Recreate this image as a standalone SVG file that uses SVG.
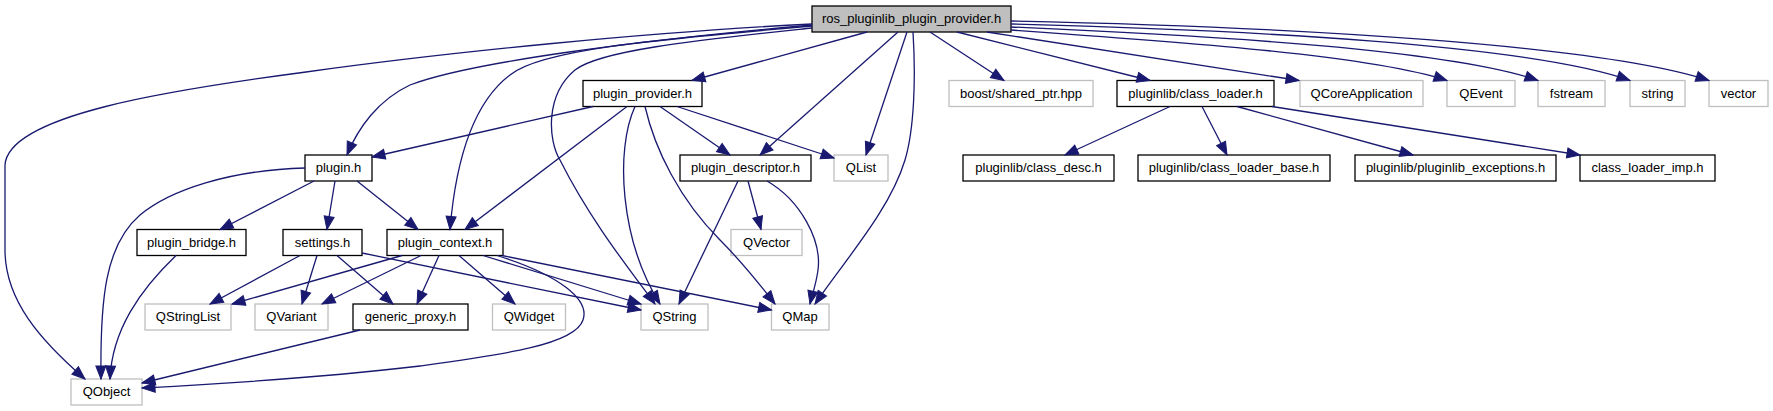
<svg xmlns="http://www.w3.org/2000/svg" width="1773" height="411" viewBox="0 0 1773 411">
<style>
.n rect{fill:#ffffff;stroke:#000000;stroke-width:1.3}
.g rect{fill:#ffffff;stroke:#bfbfbf;stroke-width:1.3}
.m rect{fill:#bfbfbf;stroke:#000000;stroke-width:1.3}
text{font-family:"Liberation Sans",Arial,sans-serif;font-size:13px;fill:#000000;text-anchor:middle}
#edges path{fill:none;stroke:#191970;stroke-width:1.3;marker-end:url(#arr)}
</style>
<defs>
<marker id="arr" markerUnits="userSpaceOnUse" markerWidth="15" markerHeight="12" refX="13" refY="5.5" orient="auto" overflow="visible">
<path d="M0,0.5 L13,5.5 L0,10.5 z" fill="#191970" stroke="#191970" stroke-width="1"/>
</marker>
</defs>
<rect x="0" y="0" width="1773" height="411" fill="#ffffff"/>
<g id="n_main" class="m"><rect x="812" y="6" width="199" height="26"/><text x="911.5" y="23">ros_pluginlib_plugin_provider.h</text></g>
<g id="n_plugin_provider" class="n"><rect x="583" y="80.5" width="119" height="26"/><text x="642.5" y="97.5">plugin_provider.h</text></g>
<g id="n_boost" class="g"><rect x="949" y="80.5" width="144" height="26"/><text x="1021" y="97.5">boost/shared_ptr.hpp</text></g>
<g id="n_class_loader" class="n"><rect x="1117" y="80.5" width="157" height="26"/><text x="1195.5" y="97.5">pluginlib/class_loader.h</text></g>
<g id="n_qcoreapplication" class="g"><rect x="1300" y="80.5" width="123" height="26"/><text x="1361.5" y="97.5">QCoreApplication</text></g>
<g id="n_qevent" class="g"><rect x="1447" y="80.5" width="68" height="26"/><text x="1481" y="97.5">QEvent</text></g>
<g id="n_fstream" class="g"><rect x="1538" y="80.5" width="67" height="26"/><text x="1571.5" y="97.5">fstream</text></g>
<g id="n_string" class="g"><rect x="1630" y="80.5" width="55" height="26"/><text x="1657.5" y="97.5">string</text></g>
<g id="n_vector" class="g"><rect x="1709" y="80.5" width="59" height="26"/><text x="1738.5" y="97.5">vector</text></g>
<g id="n_plugin" class="n"><rect x="305" y="155" width="67" height="26"/><text x="338.5" y="172">plugin.h</text></g>
<g id="n_plugin_descriptor" class="n"><rect x="680" y="155" width="131" height="26"/><text x="745.5" y="172">plugin_descriptor.h</text></g>
<g id="n_qlist" class="g"><rect x="834" y="155" width="54" height="26"/><text x="861" y="172">QList</text></g>
<g id="n_class_desc" class="n"><rect x="963" y="155" width="151" height="26"/><text x="1038.5" y="172">pluginlib/class_desc.h</text></g>
<g id="n_class_loader_base" class="n"><rect x="1138" y="155" width="192" height="26"/><text x="1234" y="172">pluginlib/class_loader_base.h</text></g>
<g id="n_pluginlib_exceptions" class="n"><rect x="1355" y="155" width="201" height="26"/><text x="1455.5" y="172">pluginlib/pluginlib_exceptions.h</text></g>
<g id="n_class_loader_imp" class="n"><rect x="1580" y="155" width="135" height="26"/><text x="1647.5" y="172">class_loader_imp.h</text></g>
<g id="n_plugin_bridge" class="n"><rect x="137" y="229.5" width="109" height="26"/><text x="191.5" y="246.5">plugin_bridge.h</text></g>
<g id="n_settings" class="n"><rect x="283" y="229.5" width="79" height="26"/><text x="322.5" y="246.5">settings.h</text></g>
<g id="n_plugin_context" class="n"><rect x="387" y="229.5" width="116" height="26"/><text x="445" y="246.5">plugin_context.h</text></g>
<g id="n_qvector" class="g"><rect x="731" y="229.5" width="71" height="26"/><text x="766.5" y="246.5">QVector</text></g>
<g id="n_qstringlist" class="g"><rect x="145" y="304" width="86" height="26"/><text x="188" y="321">QStringList</text></g>
<g id="n_qvariant" class="g"><rect x="255" y="304" width="73" height="26"/><text x="291.5" y="321">QVariant</text></g>
<g id="n_generic_proxy" class="n"><rect x="353" y="304" width="115" height="26"/><text x="410.5" y="321">generic_proxy.h</text></g>
<g id="n_qwidget" class="g"><rect x="492.5" y="304" width="73" height="26"/><text x="529" y="321">QWidget</text></g>
<g id="n_qstring" class="g"><rect x="641" y="304" width="67" height="26"/><text x="674.5" y="321">QString</text></g>
<g id="n_qmap" class="g"><rect x="771.5" y="304" width="57.5" height="26"/><text x="800" y="321">QMap</text></g>
<g id="n_qobject" class="g"><rect x="71" y="379" width="71" height="26"/><text x="106.5" y="396">QObject</text></g>
<g id="edges">
<path d="M812,24 C650,32 450,52 306,72 C170,90 8,115 5,165 L5,250 C5,300 40,340 85,379"/>
<path d="M812,25 C640,40 470,62 410,85 C378,100 358,128 347,155"/>
<path d="M812,26 C650,40 540,50 510,75 C470,105 455,170 450,229.5"/>
<path d="M812,28 C700,40 600,50 575,70 C545,95 548,140 560,160 C590,220 630,270 655,304"/>
<path d="M867,32 L692,80.5"/>
<path d="M898,32 L760,155"/>
<path d="M907,32 L866,155"/>
<path d="M913,32 C916,80 914,130 905,160 C890,210 845,260 815,304"/>
<path d="M930,32 L1004,80.5"/>
<path d="M957,32 L1150,80.5"/>
<path d="M987,32 L1299,80.5"/>
<path d="M1011,30 C1180,42 1370,55 1447,80.5"/>
<path d="M1011,27 C1220,36 1450,50 1538,80.5"/>
<path d="M1011,24 C1250,30 1530,45 1630,80.5"/>
<path d="M1011,21 C1300,27 1600,45 1709,80.5"/>
<path d="M593,106.5 L372,157"/>
<path d="M627,106.5 L465,229.5"/>
<path d="M635,106.5 C615,150 620,240 660,304"/>
<path d="M645,106.5 C655,150 680,200 720,240 C745,265 760,285 775,304"/>
<path d="M660,106.5 L730,155"/>
<path d="M677,106.5 L834,158"/>
<path d="M305,168 C230,170 170,190 140,215 C105,245 100,300 101,379"/>
<path d="M314,181 L220,229.5"/>
<path d="M335,181 L327,229.5"/>
<path d="M357,181 L418,229.5"/>
<path d="M176,255.5 C140,290 112,330 110,379"/>
<path d="M300,255.5 L210,304"/>
<path d="M317,255.5 L302,304"/>
<path d="M337,255.5 L393,304"/>
<path d="M362,253 L641,310"/>
<path d="M402,255.5 L232,304"/>
<path d="M421,255.5 L322,304"/>
<path d="M439,255.5 L417,304"/>
<path d="M459,255.5 L515,304"/>
<path d="M483,255.5 L641,304"/>
<path d="M502,255.5 L771.5,310"/>
<path d="M497,255.5 C560,275 590,300 583,320 C575,345 500,355 420,366 C300,380 200,385 142,388"/>
<path d="M360,330 L142,383"/>
<path d="M738,181 L679,304"/>
<path d="M748,181 L761,229.5"/>
<path d="M767,181 C800,200 822,240 818,270 C816,285 812,295 810,304"/>
<path d="M1170,106.5 L1065,155"/>
<path d="M1202,106.5 L1227,155"/>
<path d="M1237,106.5 L1413,155"/>
<path d="M1272,106.5 L1580,155"/>
</g>
</svg>
